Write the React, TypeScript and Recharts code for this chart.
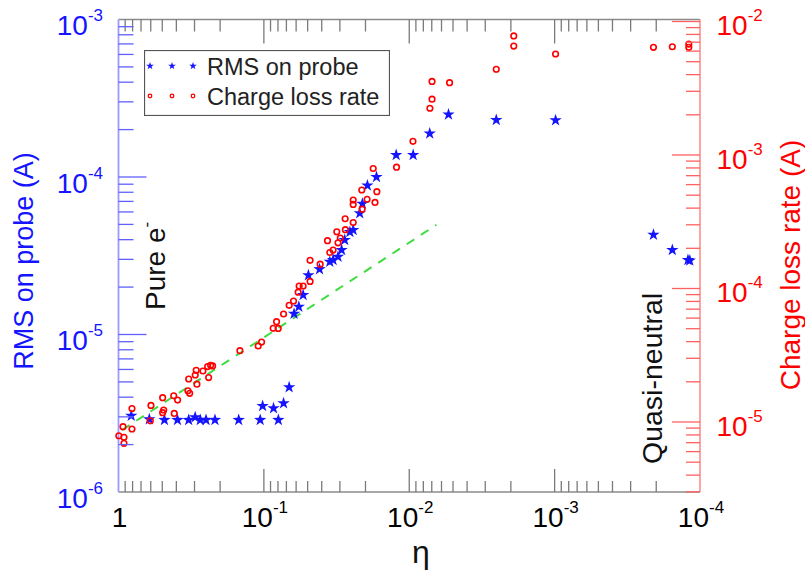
import React from 'react';
import { ScatterChart, Scatter, XAxis, YAxis, Legend, Customized } from 'recharts';

const rmsEta = [
  0.817, 0.614, 0.483, 0.393, 0.329, 0.297, 0.274, 0.25, 0.217, 0.149,
  0.106, 0.0795, 0.102, 0.0858, 0.0732, 0.067, 0.062, 0.0575, 0.0537, 0.0494,
  0.0414, 0.0352, 0.0334, 0.0309, 0.0292, 0.0278, 0.0256, 0.0243, 0.0219, 0.021,
  0.0194, 0.0168, 0.0123, 0.0094, 0.00723, 0.00537, 0.00252, 0.000985, 0.000209, 0.000155,
  0.000121, 0.0001175,
];
const rmsAmps = [
  3.05e-6, 2.9e-6, 2.87e-6, 2.87e-6, 2.87e-6, 2.98e-6, 2.87e-6, 2.87e-6, 2.87e-6, 2.87e-6,
  2.87e-6, 2.87e-6, 3.52e-6, 3.4e-6, 3.66e-6, 4.62e-6, 1.355e-5, 1.5e-5, 1.78e-5, 2.38e-5,
  2.6e-5, 2.9e-5, 2.97e-5, 3.12e-5, 3.44e-5, 3.98e-5, 4.48e-5, 4.61e-5, 5.88e-5, 6.76e-5,
  8.83e-5, 1.0e-4, 1.38e-4, 1.38e-4, 1.89e-4, 2.49e-4, 2.3e-4, 2.29e-4, 4.3e-5, 3.44e-5,
  2.97e-5, 2.95e-5,
];
const lossEta = [
  0.995, 0.917, 0.917, 0.931, 0.808, 0.808, 0.598, 0.604, 0.497, 0.489,
  0.497, 0.417, 0.4135, 0.392, 0.329, 0.333, 0.324, 0.292, 0.2966, 0.2626,
  0.2887, 0.2437, 0.2399, 0.2325, 0.2252, 0.1462, 0.1094, 0.1037, 0.0863, 0.0818,
  0.0797, 0.0732, 0.067, 0.0625, 0.0581, 0.0572, 0.0537, 0.0481, 0.0481, 0.041,
  0.0365, 0.0352, 0.0334, 0.0309, 0.0298, 0.0315, 0.0275, 0.0276, 0.0243, 0.0243,
  0.0243, 0.0211, 0.0212, 0.0195, 0.0172, 0.0167, 0.0177, 0.01223, 0.00943, 0.00721,
  0.00697, 0.00697, 0.00528, 0.00252, 0.00191, 0.00191, 0.000985, 0.000209, 0.000155, 0.0001194,
  0.0001194,
];
const lossAmps = [
  7.89e-6, 7.68e-6, 6.92e-6, 9.22e-6, 1.26e-5, 8.86e-6, 1.33e-5, 1.02e-5, 1.52e-5, 1.23e-5,
  1.175e-5, 1.57e-5, 1.16e-5, 1.46e-5, 2.1e-5, 1.715e-5, 1.64e-5, 2.44e-5, 2.25e-5, 2.41e-5,
  1.92e-5, 2.6e-5, 2.15e-5, 2.66e-5, 2.63e-5, 3.42e-5, 3.71e-5, 3.97e-5, 5.03e-5, 5.64e-5,
  5.02e-5, 6.44e-5, 7.48e-5, 8.06e-5, 9.38e-5, 1.044e-4, 1.044e-4, 1.13e-4, 1.626e-4, 1.52e-4,
  2.28e-4, 1.86e-4, 1.94e-4, 2.2e-4, 2.39e-4, 2.66e-4, 2.76e-4, 3.33e-4, 3.12e-4, 4.6e-4,
  4.26e-4, 3.93e-4, 5.47e-4, 4.66e-4, 4.41e-4, 5.31e-4, 7.92e-4, 8.1e-4, 1.266e-3, 2.24e-3,
  2.62e-3, 3.56e-3, 3.48e-3, 4.39e-3, 6.55e-3, 7.79e-3, 5.71e-3, 6.41e-3, 6.47e-3, 6.78e-3,
  6.41e-3,
];
// ends of the dashed green fit (charge loss axis)
const fitEta = [0.946, 0.0065];
const fitAmps = [8.7e-6, 3.0e-4];

const seriesNames = ['RMS on probe', 'Charge loss rate'];

const xMajor = [1, 1e-1, 1e-2, 1e-3, 1e-4];
const xLabels = ['1', '10^-1', '10^-2', '10^-3', '10^-4'];
const leftMajor = [1e-6, 1e-5, 1e-4, 1e-3];
const leftLabels = ['10^-6', '10^-5', '10^-4', '10^-3'];
const rightMajor = [1e-5, 1e-4, 1e-3, 1e-2];
const rightLabels = ['10^-5', '10^-4', '10^-3', '10^-2'];

const X_DOMAIN = [1e-4, 1];
const LEFT_DOMAIN = [1e-6, 1e-3];
const RIGHT_DOMAIN = [2.99e-6, 1.035e-2];

const FONT = '"Liberation Sans", Arial, Helvetica, sans-serif';
const BLUE = '#1414ff';
const RED = '#ff0000';
const GRID_GRAY = '#7a7a7a';

const rmsData = rmsEta.map((x, i) => ({ x, y: rmsAmps[i] }));
const lossData = lossEta.map((x, i) => ({ x, y: lossAmps[i] }));
const fitData = fitEta.map((x, i) => ({ x, y: fitAmps[i] }));

// 1..9 x 10^k inside the domain
const logTicks = ([lo, hi]: number[]) => {
  const out: number[] = [];
  for (let e = Math.floor(Math.log10(lo)); e <= Math.ceil(Math.log10(hi)); e++) {
    for (let m = 1; m <= 9; m++) {
      const v = m * Math.pow(10, e);
      if (v >= lo * 0.999 && v <= hi * 1.001) out.push(v);
    }
  }
  return out;
};
const majorIndex = (v: number, majors: number[]) => majors.findIndex((m) => Math.abs(v / m - 1) < 1e-6);
const atEdge = (v: number, d: number[]) => Math.abs(v / d[0] - 1) < 1e-3 || Math.abs(v / d[1] - 1) < 1e-3;

const PowerLabel = ({ x, y, label, anchor, fill }: any) => {
  const [base, exp] = label.split('^');
  return (
    <text x={x} y={y} textAnchor={anchor} fill={fill} fontFamily={FONT} fontSize={28}>
      {base}
      {exp && (
        <tspan fontSize={17} dy={-14}>
          {exp}
        </tspan>
      )}
    </text>
  );
};

const BottomTick = (props: any) => {
  const { x, y, payload } = props;
  const i = majorIndex(payload.value, xMajor);
  return (
    <g>
      {!atEdge(payload.value, X_DOMAIN) && (
        <line x1={x} x2={x} y1={y} y2={y - (i >= 0 ? 23 : 11)} stroke={GRID_GRAY} strokeWidth={1.3} />
      )}
      {i >= 0 && <PowerLabel x={x + 1} y={y + 35} label={xLabels[i]} anchor="middle" fill="#000" />}
    </g>
  );
};

const TopTick = (props: any) => {
  const { x, y, payload } = props;
  if (atEdge(payload.value, X_DOMAIN)) return <g />;
  const i = majorIndex(payload.value, xMajor);
  return <line x1={x} x2={x} y1={y} y2={y + (i >= 0 ? 24 : 12)} stroke={GRID_GRAY} strokeWidth={1.3} />;
};

const LeftTick = (props: any) => {
  const { x, y, payload } = props;
  const i = majorIndex(payload.value, leftMajor);
  return (
    <g>
      {!atEdge(payload.value, LEFT_DOMAIN) && (
        <line x1={x} x2={x + (i >= 0 ? 28 : 15)} y1={y} y2={y} stroke="#6060ff" strokeWidth={1.3} />
      )}
      {i >= 0 && <PowerLabel x={x - 15.5} y={y + 15.5} label={leftLabels[i]} anchor="end" fill={BLUE} />}
    </g>
  );
};

const RightTick = (props: any) => {
  const { x, y, payload } = props;
  const i = majorIndex(payload.value, rightMajor);
  return (
    <g>
      {!atEdge(payload.value, RIGHT_DOMAIN) && (
        <line x1={x} x2={x - (i >= 0 ? 28 : 14)} y1={y} y2={y} stroke="#ff6060" strokeWidth={1.3} />
      )}
      {i >= 0 && <PowerLabel x={x + 16.5} y={y + 14} label={rightLabels[i]} anchor="start" fill={RED} />}
    </g>
  );
};

const starPoints = (cx: number, cy: number, R: number, r: number) => {
  const pts: string[] = [];
  for (let k = 0; k < 10; k++) {
    const rad = k % 2 === 0 ? R : r;
    const a = -Math.PI / 2 + (k * Math.PI) / 5;
    pts.push(`${cx + rad * Math.cos(a)},${cy + rad * Math.sin(a)}`);
  }
  return pts.join(' ');
};

const StarDot = (p: any) => <polygon points={starPoints(p.cx, p.cy, 6.5, 2.5)} fill={BLUE} />;
const RingDot = (p: any) => (
  <circle cx={p.cx} cy={p.cy} r={2.8} fill="none" stroke={RED} strokeWidth={1.6} />
);

const LegendBox = (props: any) => {
  const items = (props.payload || [])
    .filter((p: any) => seriesNames.includes(p.value))
    .sort((a: any, b: any) => seriesNames.indexOf(a.value) - seriesNames.indexOf(b.value));
  return (
    <svg width={246} height={66} style={{ display: 'block' }}>
      <rect x={0.5} y={0.5} width={245} height={65} fill="#fff" stroke="#555" strokeWidth={1.2} />
      {items.map((it: any, i: number) => {
        const cy = 16 + i * 30;
        return (
          <g key={it.value}>
            {[6, 28, 49].map((mx) =>
              i === 0 ? (
                <polygon key={mx} points={starPoints(mx, cy, 4, 1.6)} fill={BLUE} />
              ) : (
                <circle key={mx} cx={mx} cy={cy} r={1.8} fill="none" stroke={RED} strokeWidth={1.3} />
              )
            )}
            <text x={63} y={cy + 9} fontSize={23.5} fontFamily={FONT} fill="#222">
              {it.value}
            </text>
          </g>
        );
      })}
    </svg>
  );
};

const Annotations = () => (
  <g fontFamily={FONT}>
    <text x={421} y={563} textAnchor="middle" fontSize={32} fill="#111">
      η
    </text>
    <text transform="rotate(-90 33 261)" x={33} y={261} textAnchor="middle" fontSize={27} fill={BLUE}>
      RMS on probe (A)
    </text>
    <text transform="rotate(-90 800 265)" x={800} y={265} textAnchor="middle" fontSize={28} fill={RED}>
      Charge loss rate (A)
    </text>
    <text transform="rotate(-90 165 310)" x={165} y={310} fontSize={28} fill="#111">
      Pure e
      <tspan fontSize={17} dy={-13}>
        -
      </tspan>
    </text>
    <text transform="rotate(-90 662 464)" x={662} y={464} fontSize={28.5} fill="#111">
      Quasi-neutral
    </text>
  </g>
);

const axisCommon = {
  dataKey: 'x',
  type: 'number' as const,
  scale: 'log' as const,
  interval: 0 as const,
  tickSize: 0,
  tickMargin: 0,
  tickLine: false,
};

export default function App() {
  return (
    <div style={{ position: 'absolute', left: 0, top: 0, width: 805, height: 575, background: '#fff' }}>
      <ScatterChart width={805} height={575} margin={{ top: 18.5, right: 104, bottom: 82, left: 117.5 }}>
        <XAxis
          {...axisCommon}
          xAxisId="bottom"
          domain={X_DOMAIN}
          reversed
          ticks={logTicks(X_DOMAIN)}
          height={1}
          axisLine={{ stroke: '#8a8a8a', strokeWidth: 1.5 }}
          tick={(p: any) => <BottomTick {...p} />}
        />
        <XAxis
          {...axisCommon}
          xAxisId="top"
          orientation="top"
          domain={X_DOMAIN}
          reversed
          ticks={logTicks(X_DOMAIN)}
          height={1}
          axisLine={{ stroke: '#8a8a8a', strokeWidth: 1.5 }}
          tick={(p: any) => <TopTick {...p} />}
        />
        <YAxis
          {...axisCommon}
          yAxisId="left"
          dataKey="y"
          domain={LEFT_DOMAIN}
          ticks={logTicks(LEFT_DOMAIN)}
          width={1}
          axisLine={{ stroke: '#9a9aff', strokeWidth: 1.8 }}
          tick={(p: any) => <LeftTick {...p} />}
        />
        <YAxis
          {...axisCommon}
          yAxisId="right"
          orientation="right"
          dataKey="y"
          domain={RIGHT_DOMAIN}
          ticks={logTicks(RIGHT_DOMAIN)}
          width={1}
          axisLine={{ stroke: '#ff9a9a', strokeWidth: 1.8 }}
          tick={(p: any) => <RightTick {...p} />}
        />
        {/* the fit sits on the top eta axis, which shares the bottom one's scale */}
        <Scatter
          name="fit"
          data={fitData}
          xAxisId="top"
          yAxisId="right"
          legendType="none"
          line={{ stroke: '#3fdc3f', strokeWidth: 2, strokeDasharray: '9 8' }}
          shape={() => <g />}
          isAnimationActive={false}
        />
        <Scatter
          name={seriesNames[0]}
          data={rmsData}
          xAxisId="bottom"
          yAxisId="left"
          fill={BLUE}
          shape={StarDot}
          isAnimationActive={false}
        />
        <Scatter
          name={seriesNames[1]}
          data={lossData}
          xAxisId="bottom"
          yAxisId="right"
          fill={RED}
          shape={RingDot}
          isAnimationActive={false}
        />
        <Legend
          layout="vertical"
          align="center"
          verticalAlign="middle"
          wrapperStyle={{ left: 144, top: 50, width: 246, height: 66 }}
          content={LegendBox}
        />
        <Customized component={Annotations} />
      </ScatterChart>
    </div>
  );
}
